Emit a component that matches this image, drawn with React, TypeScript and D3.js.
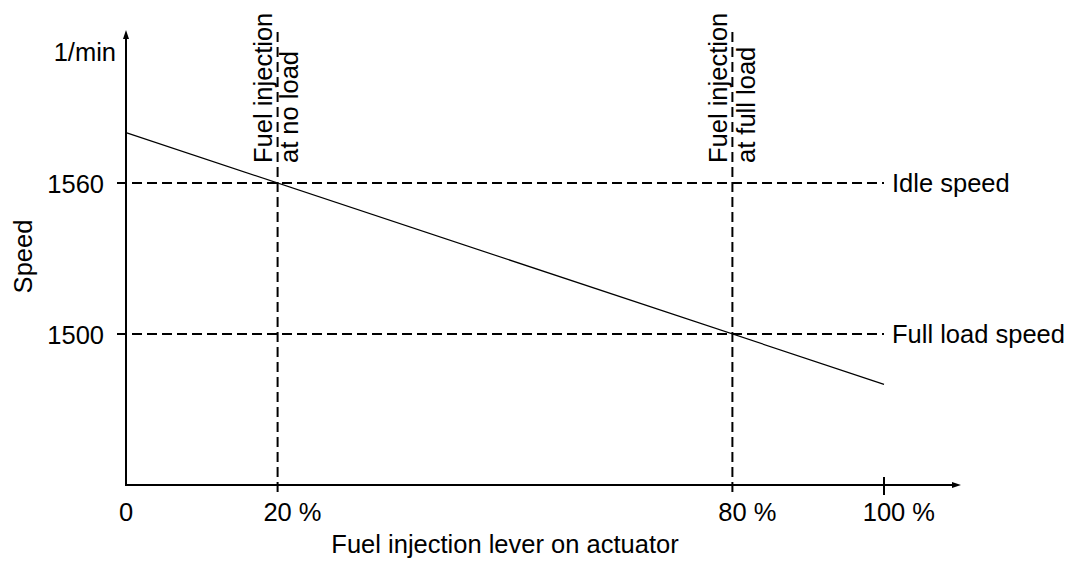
import React from "react";
import * as d3 from "d3";

// ---- data ----
const xTickValues = [0, 20, 80, 100];
const xTickSuffix = ["", " %", " %", " %"];
const yTickValues = [1500, 1560];
const lineX = [0, 100];
const lineY = [1580, 1480];
const refX = [20, 80];
const refXLabels = [
  ["Fuel injection", "at no load"],
  ["Fuel injection", "at full load"],
];
const refY = [1560, 1500];
const refYLabels = ["Idle speed", "Full load speed"];
const xTitle = "Fuel injection lever on actuator";
const yTitle = "Speed";
const yUnit = "1/min";

const W = 1073;
const H = 562;
const FS = 25.5;
const FONT = "'Liberation Sans', Arial, Helvetica, sans-serif";
const LINE1_DX = [-6, -5.5];
const LINE2_DX = [20, 23];

export default function App() {
  const x = d3.scaleLinear().domain([0, 100]).range([126, 884]);
  const y = d3.scaleLinear().domain([1440, 1500]).range([485, 334]);
  const x0 = x(0);
  const y0 = y(1440);
  const yTop = 30;
  const xEnd = 961;

  const line = d3
    .line<number>()
    .x((d, i) => x(lineX[i]))
    .y((d) => y(d));

  const dash = "10,5";

  return (
    <svg
      width={W}
      height={H}
      style={{ position: "absolute", left: 0, top: 0, background: "#fff" }}
      fontFamily={FONT}
      fontSize={FS}
    >
      <rect x={0} y={0} width={W} height={H} fill="#fff" />

      {/* horizontal reference lines */}
      {refY.map((v, i) => (
        <g key={"ry" + i}>
          <line
            x1={x0 - 9}
            x2={x(100)}
            y1={y(v)}
            y2={y(v)}
            stroke="#000"
            strokeWidth={2}
            strokeDasharray={dash}
          />
          <text x={x(100) + 8} y={y(v) + 9} fill="#000">
            {refYLabels[i]}
          </text>
        </g>
      ))}

      {/* vertical reference lines */}
      {refX.map((v, i) => (
        <g key={"rx" + i}>
          <line
            x1={x(v)}
            x2={x(v)}
            y1={32}
            y2={y0 + 10}
            stroke="#000"
            strokeWidth={2}
            strokeDasharray={dash}
          />
          <text
            transform={`translate(${x(v) + LINE1_DX[i]},163) rotate(-90)`}
            textAnchor="start"
            fill="#000"
          >
            {refXLabels[i][0]}
          </text>
          <text
            transform={`translate(${x(v) + LINE2_DX[i]},163) rotate(-90)`}
            textAnchor="start"
            fill="#000"
          >
            {refXLabels[i][1]}
          </text>
        </g>
      ))}

      {/* data line */}
      <path d={line(lineY) || ""} fill="none" stroke="#000" strokeWidth={1.2} />

      {/* axes */}
      <line x1={x0} x2={x0} y1={y0} y2={yTop + 6} stroke="#000" strokeWidth={2} />
      <path d={`M${x0},${yTop} L${x0 - 3},${yTop + 9} L${x0 + 3},${yTop + 9} Z`} fill="#000" />
      <line x1={x0 - 1} x2={xEnd - 6} y1={y0} y2={y0} stroke="#000" strokeWidth={2} />
      <path d={`M${xEnd},${y0} L${xEnd - 9},${y0 - 3} L${xEnd - 9},${y0 + 3} Z`} fill="#000" />

      {/* 100% tick */}
      <line x1={x(100)} x2={x(100)} y1={y0 - 8} y2={y0 + 10} stroke="#000" strokeWidth={2} />

      {/* x tick labels */}
      {xTickValues.map((v, i) => {
        const numW = String(v).length * 0.556 * FS;
        return (
          <text key={"xt" + i} x={x(v) - numW / 2} y={521} fill="#000">
            {String(v) + xTickSuffix[i]}
          </text>
        );
      })}

      {/* y tick labels */}
      {yTickValues.map((v, i) => (
        <text key={"yt" + i} x={104} y={y(v) + 9.5} textAnchor="end" fill="#000">
          {String(v)}
        </text>
      ))}

      {/* unit */}
      <text x={116} y={61} textAnchor="end" fill="#000">
        {yUnit}
      </text>

      {/* axis titles */}
      <text x={(x(0) + x(100)) / 2} y={553} textAnchor="middle" fill="#000">
        {xTitle}
      </text>
      <text
        transform={`translate(31.5,${(y(1560) + y(1500)) / 2 - 2}) rotate(-90)`}
        textAnchor="middle"
        fill="#000"
      >
        {yTitle}
      </text>
    </svg>
  );
}
